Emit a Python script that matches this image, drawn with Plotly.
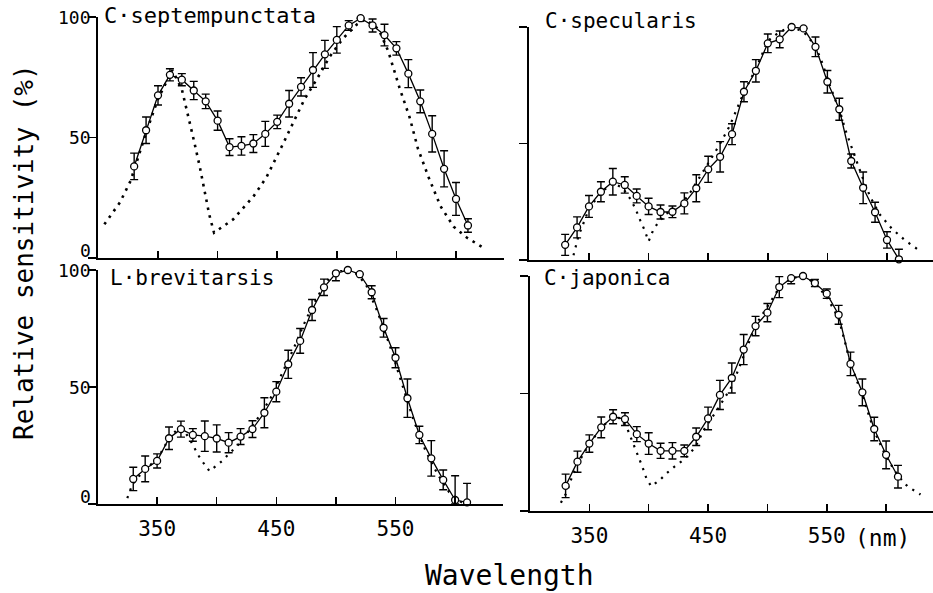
import plotly.graph_objects as go

# ---------------- data ----------------
wavelength = [330, 340, 350, 360, 370, 380, 390, 400, 410, 420, 430, 440, 450, 460, 470,
              480, 490, 500, 510, 520, 530, 540, 550, 560, 570, 580, 590, 600, 610]

sept_vals = [38, 53, 67.5, 76, 74, 69.5, 65, 57, 46, 46.5, 47.5, 51.5, 56.5, 64, 71,
             78, 84.5, 90.5, 96.5, 99.5, 96.5, 92.5, 87, 76.5, 65, 51.5, 37, 24.5, 13.5]
sept_err = [5.5, 5.5, 4, 2.5, 2.5, 3.8, 3, 4, 3.5, 3.8, 3.7, 5.2, 2.8, 5.5, 3.8,
            7.2, 5.8, 5.5, 2, 0, 2.7, 4.5, 2.8, 5.8, 4.7, 7.5, 7.5, 6.8, 2.8]
sept_fit_wl = [305, 318, 327, 340, 350, 362, 370, 375, 380, 385, 390, 393, 397, 413, 430,
               441, 455, 463, 473, 483, 494, 505, 517, 524, 535, 543, 553, 561, 568, 577,
               587, 598, 609, 622]
sept_fit = [14, 23, 32, 52, 66, 78, 70, 60, 49, 38, 26, 18, 10.5, 16, 25.5,
            33.5, 47.5, 56, 66, 74, 83.5, 91, 97, 99, 95, 86, 70, 58.5, 45.5, 33.5,
            21.5, 13, 8.5, 4.5]

spec_vals = [6.5, 14, 23, 29.3, 33.6, 32.2, 27.5, 23, 20.6, 20.7, 24.3, 30.8, 38.9, 44.3, 54,
             72.2, 81.2, 93, 94.7, 100, 99.4, 91.5, 76.5, 64.7, 42.5, 31, 20.5, 8.6, 0.3]
spec_err = [4.5, 4.5, 4.7, 4.3, 5.7, 3.5, 3, 3.5, 3, 2.5, 4.5, 5.8, 5.6, 6.5, 4.5,
            4.3, 4.8, 4, 3.6, 0, 0, 4.2, 4.8, 4.7, 3, 6.8, 4.3, 3.5, 4.3]
spec_fit_wl = [337, 341, 350, 360, 370, 378, 385, 389, 393, 396.5, 400, 404, 408, 415, 425,
               435, 447, 459, 468, 474, 480, 490, 500, 510, 520, 530, 538, 544, 552, 561,
               565, 572, 579, 586, 594, 604, 615, 626]
spec_fit = [2, 10, 22, 29, 33, 31, 26, 22, 17, 13, 8, 13, 16, 20, 22,
            29, 39, 49, 57.5, 65, 72, 82, 94, 98, 100, 98, 93, 87, 75, 63,
            56, 46, 36, 27, 19.5, 13.5, 8.5, 4.5]

brev_vals = [10.7, 15, 18.4, 28.1, 32, 29.5, 29, 28, 26.2, 28.8, 32, 39, 48, 59.7, 69.7,
             82.9, 92.6, 98.6, 100, 98.2, 90.5, 75.3, 62.5, 45.2, 29.5, 19.5, 10.3, 1.7, 0.7]
brev_err = [5, 5.5, 3, 4.8, 3.4, 2.7, 6.5, 5.8, 4.3, 3.4, 3.6, 6.4, 4.3, 6, 5.3,
            4.5, 3.5, 3.2, 0, 0, 2.8, 4, 4.3, 8.2, 3.7, 7.6, 4.2, 10.4, 8.1]
brev_fit_wl = [325, 329, 335, 340, 350, 360, 368, 373, 377, 381, 385, 389, 394, 400, 406,
               411, 416, 425, 435, 445, 455, 465, 475, 485, 495, 505, 515, 525, 535, 545,
               555, 565, 575, 585, 595, 603, 608]
brev_fit = [2.5, 8, 12, 15, 19, 28, 32.5, 31, 28, 24, 20.5, 17.5, 14, 16.5, 19,
            22, 24, 30, 37, 45, 56, 67, 79, 89, 97, 100, 99.5, 94, 82, 68,
            52, 36, 23, 13, 5, 1.5, 0]

japo_vals = [10.7, 21, 28.7, 35.6, 40.1, 39.1, 32.7, 28.7, 25.6, 25.6, 25.6, 31.6, 39.4, 49.4, 56.6,
             68.7, 78.7, 84.4, 95.3, 99.1, 100, 97, 92.5, 83.5, 62.6, 50.5, 34.9, 23.9, 14.6]
japo_err = [5, 4.5, 3.7, 4.4, 3, 2.7, 3.2, 4.6, 3.2, 3.5, 2.5, 3.7, 4.8, 6.2, 6.4,
            6.4, 4.1, 3.9, 4.5, 2.4, 0, 1.5, 2, 4, 5, 5.7, 5, 5.9, 4.8]
japo_fit_wl = [326, 331, 335, 340, 350, 360, 370, 376, 382, 387, 391, 394.5, 398, 402, 409,
               415, 422, 430, 439, 447, 457, 470, 480, 490, 500, 510, 520, 530, 540, 550,
               560, 570, 580, 590, 600, 610, 618, 629]
japo_fit = [3.5, 8, 14, 20, 28.5, 35.5, 40, 39.5, 35, 29, 23.5, 19, 14, 10.5, 13,
            16, 19, 22, 27, 35, 42.5, 53, 66, 79, 87, 95, 99, 100, 97, 91,
            82, 63, 49, 34, 23, 15, 10.5, 7]

species = ["C·septempunctata", "C·specularis", "L·brevitarsis", "C·japonica"]
xtick_vals = [350, 400, 450, 500, 550, 600]
xtick_text = ["350", "", "450", "", "550", ""]
ytick_vals = [0, 50, 100]
ytick_text = ["0", "50", "100"]

# ---------------- layout geometry (pixels) ----------------
W, H = 933, 593
panels = [
    dict(x0=98.4, x1=503.7, xmax=640, yb=258, yt=17),
    dict(x0=529.4, x1=933, xmax=638.6, yb=260, yt=27),
    dict(x0=97.5, x1=502.8, xmax=640, yb=504, yt=270),
    dict(x0=530, x1=933, xmax=639.5, yb=511, yt=276),
]
series = [
    (sept_vals, sept_err, sept_fit_wl, sept_fit, 2.6, "2.6px,5.4px"),
    (spec_vals, spec_err, spec_fit_wl, spec_fit, 2.2, "2.2px,6px"),
    (brev_vals, brev_err, brev_fit_wl, brev_fit, 2.2, "2.2px,6px"),
    (japo_vals, japo_err, japo_fit_wl, japo_fit, 2.2, "2.2px,6px"),
]
label_pos = [(102, 15.5), (543, 21), (108, 278), (542, 278)]
label_size = [22, 21, 21, 21]
ylabel_shift = {0: 8, 50: 0, 100: 0}

MONO = "DejaVu Sans Mono"
fig = go.Figure()
layout = dict(width=W, height=H, margin=dict(l=0, r=0, t=0, b=0, pad=0, autoexpand=False),
              paper_bgcolor="white", plot_bgcolor="white", showlegend=False,
              annotations=[], template="none")

for i, (p, s) in enumerate(zip(panels, series)):
    n = "" if i == 0 else str(i + 1)
    vals, err, fwl, fit, dw, dpat = s
    xa, ya = "x" + n, "y" + n
    bottom = i >= 2
    left = i in (0, 2)
    layout["xaxis" + n] = dict(
        domain=[p["x0"] / W, p["x1"] / W], range=[300, p["xmax"]], anchor=ya,
        automargin=False,
        showline=True, linecolor="black", linewidth=2, showgrid=False, zeroline=False,
        ticks="inside", ticklen=7, tickwidth=1.5, tickcolor="black",
        tickvals=xtick_vals, ticktext=xtick_text, showticklabels=bottom,
        tickfont=dict(family=MONO, size=21, color="black"), ticklabelstandoff=5)
    layout["yaxis" + n] = dict(
        domain=[1 - p["yb"] / H, 1 - p["yt"] / H], range=[0, 100], anchor=xa,
        automargin=False,
        showline=True, linecolor="black", linewidth=2, showgrid=False, zeroline=False,
        ticks="outside", ticklen=8, tickwidth=1.5, tickcolor="black",
        tickvals=ytick_vals, showticklabels=False)
    if left:
        for tv, tt in zip(ytick_vals, ytick_text):
            layout["annotations"].append(dict(
                text=tt, x=0, y=tv, xref=xa + " domain", yref=ya,
                xanchor="right", yanchor="middle", xshift=-5, yshift=ylabel_shift[tv],
                showarrow=False, font=dict(family=MONO, size=18, color="black")))
    fig.add_trace(go.Scatter(x=fwl, y=fit, xaxis=xa, yaxis=ya, mode="lines",
                             line=dict(color="black", width=dw, dash=dpat),
                             hoverinfo="skip"))
    minus = [min(e, v) for e, v in zip(err, vals)]
    fig.add_trace(go.Scatter(
        x=wavelength, y=vals, xaxis=xa, yaxis=ya, mode="lines+markers",
        line=dict(color="black", width=1.3),
        marker=dict(symbol="circle", size=7, color="white",
                    line=dict(color="black", width=1.3)),
        error_y=dict(type="data", array=err, arrayminus=minus, symmetric=False,
                     color="black", thickness=1.4, width=4),
        cliponaxis=False))
    lx, ly = label_pos[i]
    layout["annotations"].append(dict(
        text=species[i], x=lx / W, y=1 - ly / H, xref="paper", yref="paper",
        xanchor="left", yanchor="middle", showarrow=False,
        font=dict(family=MONO, size=label_size[i], color="black")))

layout["annotations"] += [
    dict(text="Relative sensitivity (%)", x=24 / W, y=1 - 252 / H, xref="paper", yref="paper",
         textangle=-90, xanchor="center", yanchor="middle", showarrow=False,
         font=dict(family=MONO, size=26, color="black")),
    dict(text="Wavelength", x=509 / W, y=1 - 575 / H, xref="paper", yref="paper",
         xanchor="center", yanchor="middle", showarrow=False,
         font=dict(family=MONO, size=28, color="black")),
    dict(text="(nm)", x=853 / W, y=1 - 538 / H, xref="paper", yref="paper",
         xanchor="left", yanchor="middle", showarrow=False,
         font=dict(family=MONO, size=23, color="black")),
]
fig.update_layout(**layout)
fig.write_html("out.html", config={"displayModeBar": False, "staticPlot": True},
               post_script="document.body.style.margin='0px';document.body.style.overflow='hidden';")
